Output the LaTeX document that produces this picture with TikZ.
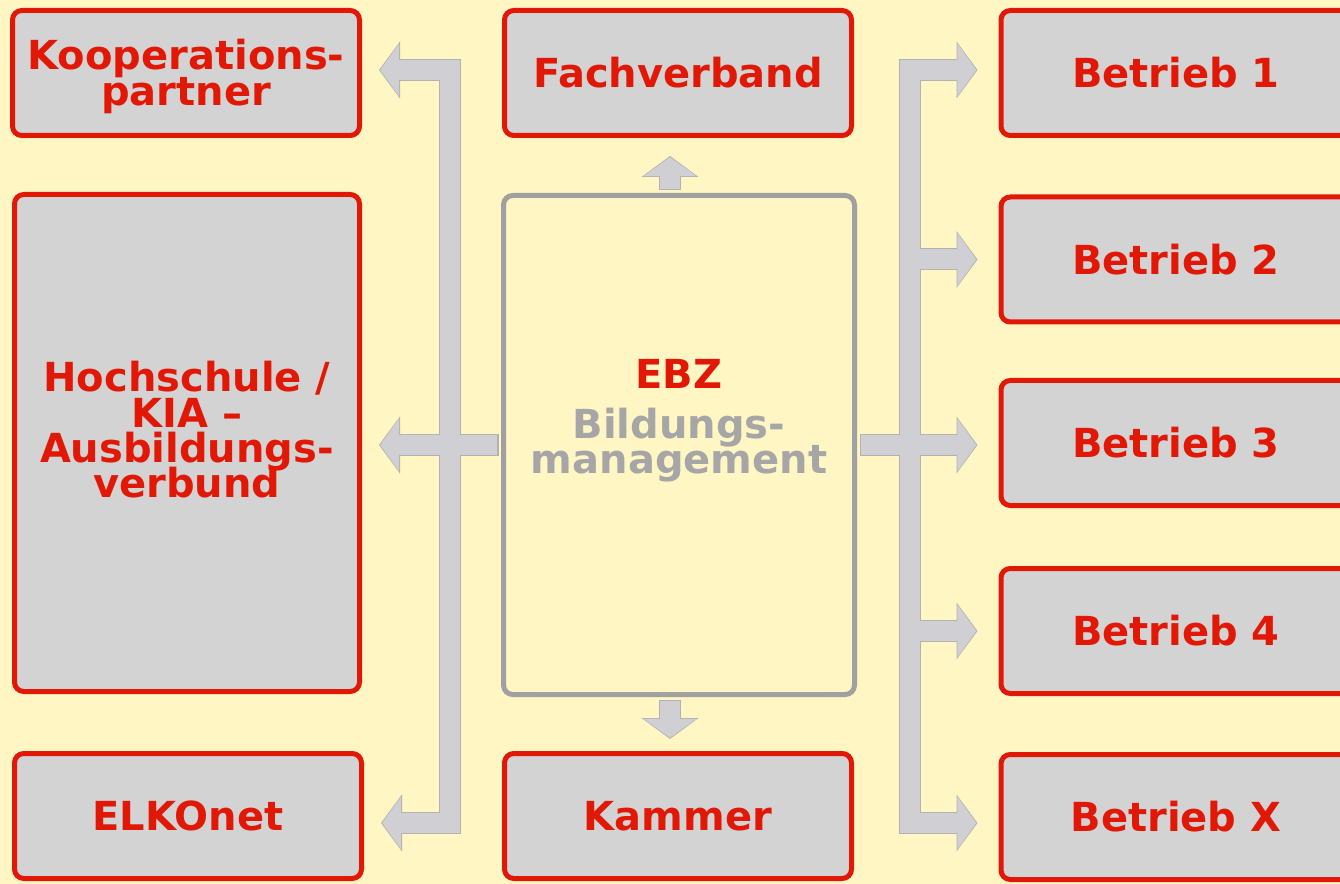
\documentclass[tikz,border=0pt]{standalone}
\usepackage{fontspec}
\setmainfont{DejaVu Sans}
\usetikzlibrary{arrows.meta,calc}

\definecolor{bgyellow}{RGB}{255,246,196}
\definecolor{boxgray}{RGB}{211,211,211}
\definecolor{boxred}{RGB}{226,24,6}
\definecolor{ebzgray}{RGB}{160,160,160}
\definecolor{txtgray}{RGB}{166,166,166}
\definecolor{pipefill}{RGB}{208,208,212}
\definecolor{pipeedge}{RGB}{178,178,178}

\newcommand\boxfont{\fontsize{30}{26.5}\selectfont\bfseries\lineskiplimit=-30pt}

\tikzset{
	box/.style={draw=boxred, fill=boxgray, line width=3.75pt, rounded corners=7pt,
		minimum width=260.25pt, minimum height=93.75pt, align=center, text=boxred, font=\boxfont},
	pipeout/.style={draw=pipeedge, line width=16.5pt, line join=miter,
		>={Triangle[length=15.75pt,width=42pt]}},
	pipein/.style={draw=pipefill, line width=15pt, line join=miter,
		>={Triangle[length=14.25pt,width=39pt]}, shorten >=0.9pt, shorten <=0.9pt},
}

% all broad arrows, drawn once as edge and once as fill
\newcommand\pipes[1]{
	\draw[#1,<->] ($(kp.east |- ltop)+(17,0)$) -- (ltop) -- (lbot) -- ($(elko.east |- lbot)+(17,0)$);
	\draw[#1,<->] ($(b1.west |- rtop)+(-21,0)$) -- (rtop) -- (rbot) -- ($(bx.west |- rbot)+(-21,0)$);
	\draw[#1,->] ($(ebz.west)+(-2.5,0)$) -- ($(hs.east |- ebz.west)+(17,0)$);
	\draw[#1,->] ($(ebz.east)+(2.5,0)$) -- ($(b3.west |- ebz.east)+(-21,0)$);
	\draw[#1,->] (rtop |- b2.west) -- ($(b2.west)+(-21,0)$);
	\draw[#1,->] (rtop |- b4.west) -- ($(b4.west)+(-21,0)$);
	\draw[#1,->] ($(ebz.north)+(-9,-2.5)$) -- ($(ebz.north |- fv.south)+(-9,18)$);
	\draw[#1,->] ($(ebz.south)+(-9,2.5)$) -- ($(ebz.south |- km.north)+(-9,-12)$);
}

\begin{document}
\begin{tikzpicture}[x=0.75pt, y=-0.75pt]
	\useasboundingbox (0,0) rectangle (1340,884);
	\clip (0,0) rectangle (1340,884);
	\fill[bgyellow] (0,0) rectangle (1340,884);

	%%%%% left column %%%%%
	\node[box, text depth=1pt] (kp) at (186,73) {Kooperations-\\partner};
	\node[box, minimum width=258.75pt, minimum height=372.75pt, text depth=20pt] (hs) at (187,443)
		{Hochschule /\\KIA --\\Ausbildungs-\\verbund};
	\node[box] (elko) at (188,816) {ELKOnet};

	%%%%% middle column %%%%%
	\node[box] (fv) at (678,73) {Fachverband};
	\node[box, draw=ebzgray, fill=bgyellow, text=txtgray,
		minimum width=263.25pt, minimum height=374.25pt, text depth=43pt] (ebz) at (679,445)
		{\textcolor{boxred}{EBZ}\\[11pt]Bildungs-\\management};
	\node[box] (km) at (678,816) {Kammer};

	%%%%% right column %%%%%
	\node[box, minimum width=262.5pt] (b1) at (1176,73) {Betrieb 1};
	\node[box, minimum width=262.5pt] (b2) at (1176,259.5) {Betrieb 2};
	\node[box, minimum width=262.5pt] (b3) at (1176,443) {Betrieb 3};
	\node[box, minimum width=262.5pt] (b4) at (1176,631) {Betrieb 4};
	\node[box, minimum width=262.5pt] (bx) at (1176,817) {Betrieb X};

	\coordinate (ltop) at (450,70);
	\coordinate (lbot) at (450,823);
	\coordinate (rtop) at (909.5,70);
	\coordinate (rbot) at (909.5,823);

	\pipes{pipeout}
	\pipes{pipein}
\end{tikzpicture}
\end{document}
